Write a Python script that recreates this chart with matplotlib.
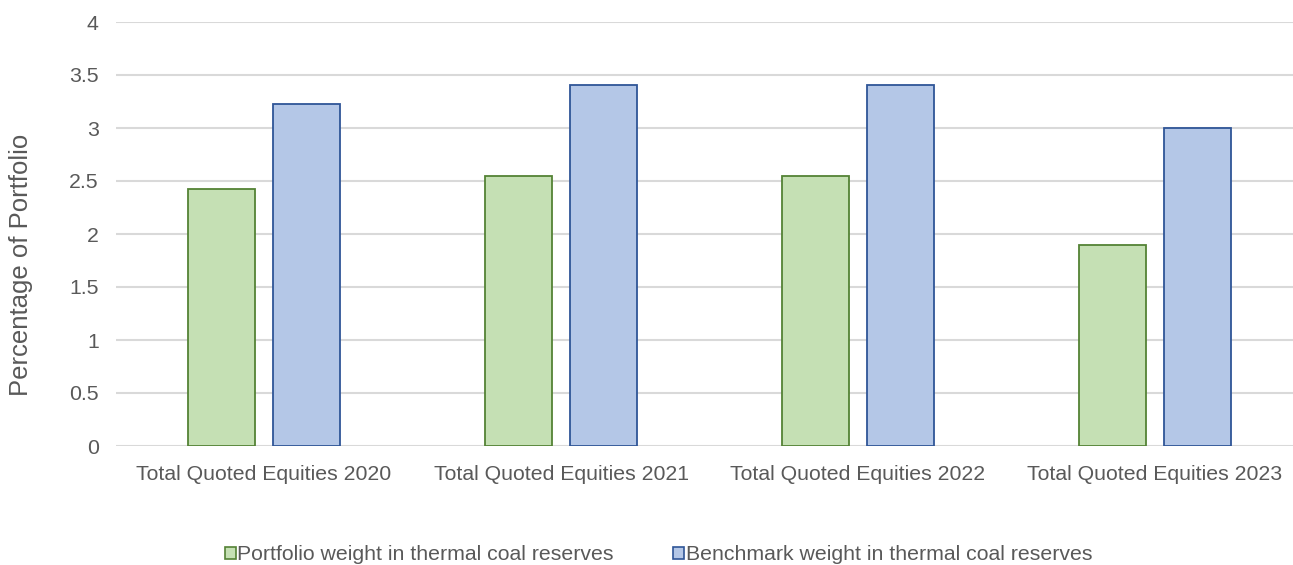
import matplotlib
matplotlib.use("Agg")
import matplotlib.pyplot as plt
from matplotlib.patches import Patch
import numpy as np

categories = ["Total Quoted Equities 2020", "Total Quoted Equities 2021",
              "Total Quoted Equities 2022", "Total Quoted Equities 2023"]
portfolio = [2.42, 2.55, 2.55, 1.90]
benchmark = [3.23, 3.41, 3.41, 3.00]
series_names = ["Portfolio weight in thermal coal reserves",
                "Benchmark weight in thermal coal reserves"]
y_ticks = [0, 0.5, 1, 1.5, 2, 2.5, 3, 3.5, 4]
y_tick_labels = ["0", "0.5", "1", "1.5", "2", "2.5", "3", "3.5", "4"]

W, H = 1293, 565
plt.rcParams["font.family"] = ["Liberation Sans", "DejaVu Sans"]
text_col = "#595959"
green_fill, green_edge = "#C5E0B4", "#548235"
blue_fill, blue_edge = "#B4C7E7", "#2F5597"
fs = 15.3

fig = plt.figure(figsize=(W / 100, H / 100), dpi=100)
left, right = 115.5, 1303.5
top, bottom = 22, 446
ax = fig.add_axes([left / W, (H - bottom) / H, (right - left) / W, (bottom - top) / H])

x = np.arange(len(categories))
bw = 0.2256
off = 0.143
ax.bar(x - off, portfolio, bw, color=green_fill, edgecolor=green_edge, linewidth=1.3, zorder=3)
ax.bar(x + off, benchmark, bw, color=blue_fill, edgecolor=blue_edge, linewidth=1.3, zorder=3)

ax.set_xlim(-0.5, len(categories) - 0.5)
ax.set_ylim(0, 4)
ax.set_yticks(y_ticks)
ax.set_yticklabels(y_tick_labels)
ax.set_xticks(x)
ax.set_xticklabels(categories)
ax.yaxis.grid(True, color="#D9D9D9", linewidth=1.5, zorder=0)
ax.set_axisbelow(True)
for s in ax.spines.values():
    s.set_visible(False)
ax.tick_params(axis="both", length=0, labelsize=fs, colors=text_col)
ax.tick_params(axis="y", pad=12)
ax.tick_params(axis="x", pad=14)

fig.text(21 / W, 1 - 265 / H, "Percentage of Portfolio", rotation=90, fontsize=18.5,
         color=text_col, ha="center", va="center")

handles = [Patch(facecolor=green_fill, edgecolor=green_edge, linewidth=1.2),
           Patch(facecolor=blue_fill, edgecolor=blue_edge, linewidth=1.2)]
leg = fig.legend(handles, series_names, loc="center", bbox_to_anchor=(658.5 / W, 1 - 555 / H),
                 ncol=2, frameon=False, fontsize=fs, handlelength=0.52, handleheight=0.52,
                 handletextpad=0.08, columnspacing=2.8, borderaxespad=0, borderpad=0)
for t in leg.get_texts():
    t.set_color(text_col)

fig.savefig("out.png", dpi=100)
